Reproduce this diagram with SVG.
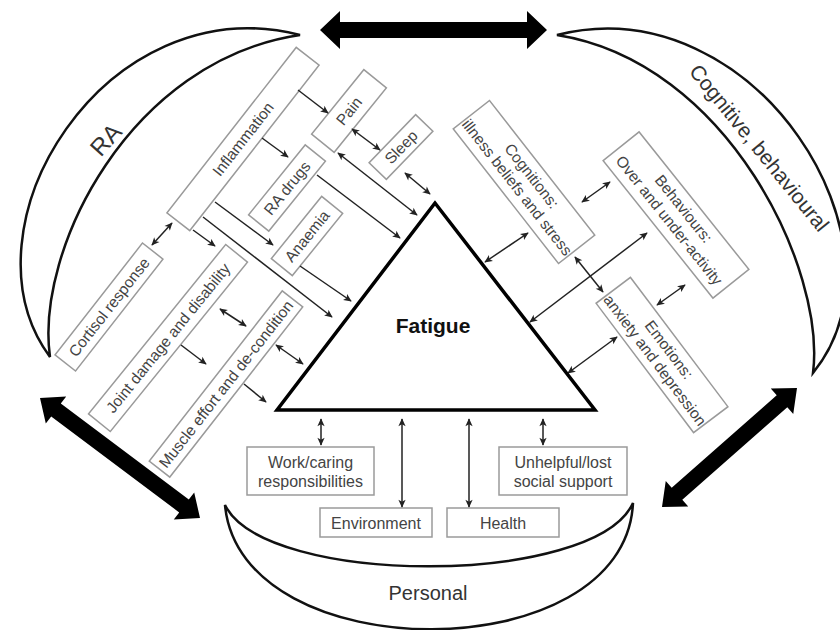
<svg xmlns="http://www.w3.org/2000/svg" width="840" height="630" viewBox="0 0 840 630">
<style>
.cres{fill:#fff;stroke:#111;stroke-width:2.5}
.big{fill:#000}
.box rect{fill:#fff;stroke:#9a9a9a;stroke-width:1.5}
.box text{font-family:"Liberation Sans",Arial,sans-serif;font-size:15.5px;fill:#444;text-anchor:middle}
.bb text{font-size:16px}
.lbl{font-family:"Liberation Sans",Arial,sans-serif;fill:#333;text-anchor:middle}
.con line{stroke:#222;stroke-width:1.5;marker-end:url(#ah)}
.con line.d{marker-start:url(#ah)}
</style>
<defs>
<marker id="ah" viewBox="0 0 10 10" refX="9" refY="5" markerWidth="9" markerHeight="8" markerUnits="userSpaceOnUse" orient="auto-start-reverse">
<path d="M0,0.5 L10,5 L0,9.5 L2.5,5 z" fill="#222"/>
</marker>
</defs>
<rect width="840" height="630" fill="#fff"/>

<g id="crescent-ra">
<path class="cres" d="M300,35 C105,-15 -45,228 50,357 C35,250 130,60 300,35 Z"/>
<text class="lbl" transform="translate(106,140) rotate(-48)" y="8" font-size="24">RA</text>
</g>
<g id="crescent-cognitive">
<path class="cres" d="M557,35 C755,-15 918,244 813,373 C826,270 728,62 557,35 Z"/>
<text class="lbl" transform="translate(759,148) rotate(51)" y="7" font-size="21">Cognitive, behavioural</text>
</g>
<g id="crescent-personal">
<path class="cres" d="M225,505 C240,671 625,671 633,503 C595,587 265,587 225,505 Z"/>
<text class="lbl" x="428" y="600" font-size="20">Personal</text>
</g>

<g id="thick-arrows">
<polygon class="big" transform="translate(433.5,30)" points="-113.5,0 -93.5,-19 -93.5,-8 93.5,-8 93.5,-19 113.5,0 93.5,19 93.5,8 -93.5,8 -93.5,19"/>
<polygon class="big" transform="translate(120,458) rotate(36.87)" points="-100,0 -80,-17 -80,-8 80,-8 80,-17 100,0 80,17 80,8 -80,8 -80,17"/>
<polygon class="big" transform="translate(729.5,447.5) rotate(-41.4)" points="-90,0 -70,-17 -70,-8 70,-8 70,-17 90,0 70,17 70,8 -70,8 -70,17"/>
</g>

<g id="inflammation" class="box" transform="translate(243,139) rotate(-52)"><rect x="-105" y="-14.5" width="210" height="29"/><text y="5.5">Inflammation</text></g>
<g id="pain" class="box" transform="translate(349,111) rotate(-51)"><rect x="-41.5" y="-14.5" width="83" height="29"/><text y="5.5">Pain</text></g>
<g id="sleep" class="box" transform="translate(401,147) rotate(-46)"><rect x="-33.5" y="-12" width="67" height="24"/><text y="5.5">Sleep</text></g>
<g id="ra-drugs" class="box" transform="translate(287,188) rotate(-51)"><rect x="-45" y="-13" width="90" height="26"/><text y="5.5">RA drugs</text></g>
<g id="anaemia" class="box" transform="translate(307,236) rotate(-51)"><rect x="-40" y="-13.5" width="80" height="27"/><text y="5.5">Anaemia</text></g>
<g id="cortisol" class="box" transform="translate(109,307) rotate(-52)"><rect x="-71" y="-13" width="142" height="26"/><text y="5.5">Cortisol response</text></g>
<g id="joint" class="box" transform="translate(168,338) rotate(-51)"><rect x="-109" y="-14" width="218" height="28"/><text y="5.5">Joint damage and disability</text></g>
<g id="muscle" class="box" transform="translate(226,384) rotate(-52)"><rect x="-108" y="-13" width="216" height="26"/><text y="5.5">Muscle effort and de-condition</text></g>

<g id="cognitions" class="box" transform="translate(524,182) rotate(52)"><rect x="-85.5" y="-23" width="171" height="46"/><text y="-4.5">Cognitions:</text><text y="14">illness beliefs and stress</text></g>
<g id="behaviours" class="box" transform="translate(676,215) rotate(51.4)"><rect x="-88" y="-23" width="176" height="46"/><text y="-4.5">Behaviours:</text><text y="14">Over and under-activity</text></g>
<g id="emotions" class="box" transform="translate(662,355) rotate(53)"><rect x="-81" y="-21.5" width="162" height="43"/><text y="-3.5">Emotions:</text><text y="14">anxiety and depression</text></g>

<g id="work" class="box bb"><rect x="247" y="447" width="127" height="48"/><text x="310.5" y="468">Work/caring</text><text x="310.5" y="487">responsibilities</text></g>
<g id="social" class="box bb"><rect x="499" y="447" width="128" height="48"/><text x="563" y="468">Unhelpful/lost</text><text x="563" y="487">social support</text></g>
<g id="environment" class="box bb"><rect x="320" y="508" width="112" height="29"/><text x="376" y="528.5">Environment</text></g>
<g id="health" class="box bb"><rect x="447" y="508" width="112" height="29"/><text x="503" y="528.5">Health</text></g>

<g id="connectors" class="con">
<line x1="298" y1="90" x2="328" y2="113"/>
<line x1="262" y1="138" x2="288" y2="157"/>
<line class="d" x1="352" y1="129" x2="380" y2="150"/>
<line class="d" x1="405" y1="173" x2="430" y2="194"/>
<line class="d" x1="338" y1="153" x2="417" y2="215"/>
<line x1="317" y1="175" x2="400" y2="238"/>
<line x1="215" y1="202" x2="273" y2="245"/>
<line x1="203" y1="217" x2="332" y2="317"/>
<line x1="300" y1="266" x2="351" y2="301"/>
<line x1="193" y1="230" x2="215" y2="246"/>
<line class="d" x1="152" y1="245" x2="172" y2="223"/>
<line class="d" x1="220" y1="309" x2="246" y2="326"/>
<line x1="181" y1="345" x2="206" y2="364"/>
<line class="d" x1="276" y1="345" x2="303" y2="364"/>
<line x1="244" y1="384" x2="266" y2="402"/>
<line class="d" x1="582" y1="202" x2="610" y2="182"/>
<line class="d" x1="485" y1="262" x2="528" y2="233"/>
<line class="d" x1="530" y1="322" x2="647" y2="233"/>
<line class="d" x1="575" y1="257" x2="603" y2="292"/>
<line class="d" x1="657" y1="305" x2="685" y2="285"/>
<line class="d" x1="568" y1="373" x2="617" y2="337"/>
<line class="d" x1="321" y1="419" x2="321" y2="445"/>
<line class="d" x1="402" y1="419" x2="402" y2="507"/>
<line class="d" x1="469" y1="419" x2="469" y2="507"/>
<line class="d" x1="543" y1="419" x2="543" y2="445"/>
</g>

<g id="fatigue">
<polygon points="435,203 277,410 595,410" fill="#fff" stroke="#000" stroke-width="3.5" stroke-linejoin="miter"/>
<text x="433" y="333" font-family="Liberation Sans,Arial,sans-serif" font-weight="bold" font-size="21" fill="#111" text-anchor="middle">Fatigue</text>
</g>
</svg>
